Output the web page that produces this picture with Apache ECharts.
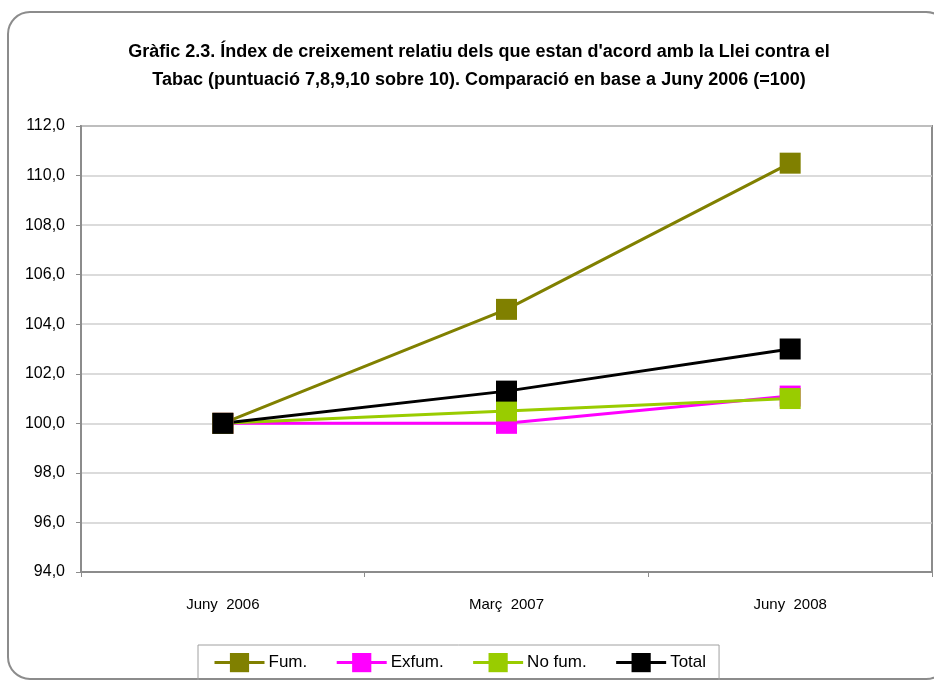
<!DOCTYPE html>
<html>
<head>
<meta charset="utf-8">
<script src="https://cdn.jsdelivr.net/npm/echarts@6/dist/echarts.min.js"></script>
<style>
  html, body { margin: 0; padding: 0; background: #fff; }
  #chart { width: 934px; height: 680px; }
</style>
</head>
<body>
<div id="chart"></div>
<script>
// categories i valors (índex, Juny 2006 = 100)
var categories = ['Juny  2006', 'Març  2007', 'Juny  2008'];
var fum = [100.0, 104.6, 110.5];
var exfum = [100.0, 100.0, 101.1];
var noFum = [100.0, 100.5, 101.0];
var total = [100.0, 101.3, 103.0];

var seriesNames = ['Fum.', 'Exfum.', 'No fum.', 'Total'];
var seriesColors = ['#808000', '#ff00ff', '#99cc00', '#000000'];
var seriesData = [fum, exfum, noFum, total];

var sans = '"Liberation Sans", Arial, sans-serif';

var myChart = echarts.init(document.getElementById('chart'));

var series = seriesData.map(function (d, i) {
    return {
        name: seriesNames[i],
        type: 'line',
        data: d,
        symbol: 'rect',
        symbolSize: 21,
        showAllSymbol: true,
        color: seriesColors[i],
        lineStyle: {width: 3, color: seriesColors[i]},
        itemStyle: {color: seriesColors[i]},
        emphasis: {disabled: true},
        animation: false
    };
});

myChart.setOption({
    animation: false,
    title: {
        text: "Gràfic 2.3. Índex de creixement relatiu dels que estan d'acord amb la Llei contra el\nTabac (puntuació 7,8,9,10 sobre 10). Comparació en base a Juny 2006 (=100)",
        left: 474,
        textAlign: 'center',
        top: 33,
        textStyle: {
            fontFamily: sans,
            fontWeight: 'bold',
            fontSize: 18,
            lineHeight: 28,
            color: '#000'
        }
    },
    graphic: [{
        type: 'rect',
        shape: {x: 8, y: 12, width: 940, height: 667, r: 22},
        style: {fill: 'none', stroke: '#8c8c8c', lineWidth: 2},
        z: -1
    }],
    legend: {
        data: seriesNames,
        left: 198,
        top: 645,
        padding: [8, 13, 24, 15],
        itemGap: 28,
        itemWidth: 50,
        itemHeight: 24,
        borderColor: '#a0a0a0',
        borderWidth: 1,
        lineStyle: {width: 3},
        textStyle: {fontFamily: sans, fontSize: 17, color: '#000', padding: [0, 0, 0, -1]}
    },
    grid: {
        left: 81,
        right: 2,
        top: 126,
        bottom: 108,
        show: true,
        borderColor: '#8c8c8c',
        borderWidth: 2
    },
    xAxis: {
        type: 'category',
        data: categories,
        boundaryGap: true,
        axisLine: {lineStyle: {color: '#8c8c8c', width: 2}},
        axisTick: {show: true, length: 5, lineStyle: {color: '#8c8c8c'}},
        axisLabel: {
            margin: 25,
            fontFamily: sans,
            fontSize: 15,
            color: '#000'
        }
    },
    yAxis: {
        type: 'value',
        min: 94,
        max: 112,
        interval: 2,
        axisLine: {show: true, lineStyle: {color: '#8c8c8c', width: 2}},
        axisTick: {show: true, length: 5, lineStyle: {color: '#8c8c8c'}},
        splitLine: {lineStyle: {color: '#cfcfcf', width: 1.5}},
        axisLabel: {
            margin: 16,
            fontFamily: sans,
            fontSize: 16,
            color: '#000',
            formatter: function (v) { return v.toFixed(1).replace('.', ','); }
        }
    },
    series: series
});
</script>
</body>
</html>
